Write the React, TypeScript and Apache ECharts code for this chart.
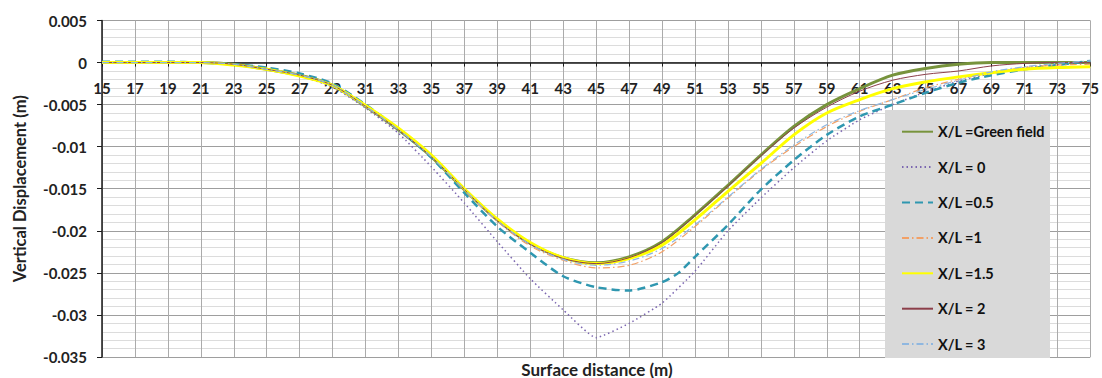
import React, { useEffect, useRef } from "react";
import * as echarts from "echarts";

// Surface distance (m) categories 15..75, labelled every 2 m
const firstDistance = 15;
const lastDistance = 75;
const categories: string[] = [];
for (let d = firstDistance; d <= lastDistance; d++) categories.push(String(d));

const yMin = -0.035;
const yMax = 0.005;
const yStep = 0.005;

// Sampling positions (m)
const distances = [15, 17, 19, 21, 23, 25, 27, 29, 31, 33, 35, 37, 39, 41, 43, 45, 47, 49, 51, 53, 55, 57, 59, 61, 63, 65, 67, 69, 71, 73, 75];
const distancesHalf = [15, 17, 19, 21, 23, 25, 27, 29, 31, 33, 35, 37, 39, 41, 43, 45, 47, 49, 50, 51, 53, 55, 57, 59, 61, 63, 65, 67, 69, 71, 73, 75];

const greenField = [0, 0, 0, 0, -0.0002, -0.0008, -0.0015, -0.0027, -0.0052, -0.008, -0.0112, -0.0151, -0.0187, -0.0215, -0.0232, -0.0238, -0.0231, -0.0213, -0.0181, -0.0146, -0.011, -0.0076, -0.005, -0.0031, -0.0015, -0.0007, -0.0002, 0, 0, 0, 0];
const xl0 = [0, 0, 0, 0, -0.0002, -0.0008, -0.0016, -0.0029, -0.0054, -0.0084, -0.0124, -0.0167, -0.0213, -0.0257, -0.0294, -0.0327, -0.031, -0.0286, -0.0248, -0.02, -0.0161, -0.0125, -0.0093, -0.0068, -0.005, -0.0035, -0.0022, -0.0013, -0.0006, -0.0002, 0];
const xl05 = [0.0001, 0.0001, 0.0001, 0, -0.0002, -0.0006, -0.0013, -0.0025, -0.005, -0.0079, -0.0113, -0.0155, -0.0195, -0.0226, -0.0254, -0.0267, -0.0271, -0.0261, -0.025, -0.0231, -0.0193, -0.0151, -0.0116, -0.0086, -0.0064, -0.005, -0.0036, -0.0024, -0.0015, -0.0008, -0.0003, 0.0002];
const xl1 = [0, 0, 0, 0, -0.0002, -0.0008, -0.0015, -0.0027, -0.0052, -0.008, -0.0112, -0.0152, -0.0189, -0.0218, -0.0235, -0.0244, -0.0241, -0.0225, -0.0195, -0.0161, -0.0128, -0.01, -0.0076, -0.0058, -0.0044, -0.003, -0.002, -0.0012, -0.0006, -0.0003, -0.0002];
const xl15 = [0, 0, 0, 0, -0.0003, -0.0008, -0.0016, -0.0027, -0.0051, -0.0078, -0.011, -0.015, -0.0186, -0.0214, -0.0232, -0.0239, -0.0233, -0.0217, -0.0187, -0.0153, -0.012, -0.0086, -0.006, -0.0044, -0.0031, -0.0023, -0.0017, -0.0012, -0.0008, -0.0006, -0.0005];
const xl2 = [0, 0, 0, 0, -0.0002, -0.0008, -0.0015, -0.0027, -0.0052, -0.008, -0.0112, -0.0151, -0.0188, -0.0216, -0.0233, -0.0239, -0.0232, -0.0214, -0.0182, -0.0147, -0.0111, -0.0078, -0.0053, -0.0034, -0.0021, -0.0014, -0.001, -0.0004, -0.0001, 0, 0];
const xl3 = [0, 0, 0, 0, -0.0002, -0.0008, -0.0015, -0.0027, -0.0052, -0.008, -0.0112, -0.0151, -0.0188, -0.0216, -0.0234, -0.0241, -0.0236, -0.0221, -0.0193, -0.016, -0.0127, -0.0098, -0.0074, -0.0057, -0.0044, -0.0032, -0.0021, -0.0011, -0.0005, -0.0001, 0.0002];

const seriesNames = ["X/L =Green field", "X/L = 0", "X/L =0.5", "X/L =1", "X/L =1.5", "X/L = 2", "X/L = 3"];

const FONT = "Lato, 'Open Sans', sans-serif";

const GRID_TOP = 20.5;
const GRID_BOTTOM = 21;
const H = 378;

function pairs(xs: number[], ys: number[]) {
  return xs.map((x, i) => [String(x), ys[i]]);
}

export default function App() {
  const ref = useRef<HTMLDivElement>(null);
  useEffect(() => {
    if (!ref.current) return;
    const chart = echarts.init(ref.current, null, { renderer: "svg" });
    const mk = (name: string, xs: number[], ys: number[], color: string, width: number, type: any, smooth: number) => ({
      name,
      type: "line",
      data: pairs(xs, ys),
      symbol: "none",
      smooth,
      lineStyle: { color, width, type },
      itemStyle: { color },
    });
    // move the category axis (line + labels) up to the zero level of the value axis
    const gridH = H - GRID_TOP - GRID_BOTTOM;
    const zeroFromBottom = gridH * ((0 - yMin) / (yMax - yMin));
    chart.setOption({
      animation: false,
      backgroundColor: "#ffffff",
      grid: { left: 102, right: 10, top: GRID_TOP, bottom: GRID_BOTTOM, containLabel: false },
      xAxis: {
        type: "category",
        data: categories,
        boundaryGap: false,
        position: "bottom",
        offset: -zeroFromBottom,
        axisLine: { onZero: false, lineStyle: { color: "#1a1a1a", width: 1.5 } },
        axisTick: { show: true, interval: 1, length: 4, lineStyle: { color: "#1a1a1a" } },
        axisLabel: {
          interval: 1,
          margin: 18,
          fontFamily: FONT,
          fontWeight: "bold",
          fontSize: 15,
          color: "#222",
        },
        splitLine: { show: true, interval: 1, lineStyle: { color: "#ababab", width: 1 } },
      },
      yAxis: {
        type: "value",
        min: yMin,
        max: yMax,
        interval: yStep,
        name: "Vertical Displacement (m)",
        nameLocation: "middle",
        nameRotate: 90,
        nameGap: 74,
        nameTextStyle: { fontFamily: FONT, fontWeight: "bold", fontSize: 16.5, color: "#222" },
        axisLine: { show: true, onZero: false, lineStyle: { color: "#1a1a1a", width: 1.5 } },
        axisTick: { show: true, length: 5, lineStyle: { color: "#1a1a1a" } },
        axisLabel: {
          margin: 15,
          fontFamily: FONT,
          fontWeight: "bold",
          fontSize: 15,
          color: "#222",
          formatter: (v: number) => String(+v.toFixed(3)),
        },
        splitLine: { show: true, lineStyle: { color: "#9e9e9e", width: 1 } },
        minorTick: { show: false, splitNumber: 5 },
        minorSplitLine: { show: true, lineStyle: { color: "#dcdcdc", width: 1 } },
      },
      legend: {
        orient: "vertical",
        left: 896,
        top: 119.2,
        itemWidth: 31,
        itemHeight: 15,
        itemGap: 20.4,
        z: 5,
        data: seriesNames,
        itemStyle: { color: "transparent", borderWidth: 0, opacity: 0 },
        textStyle: { fontFamily: FONT, fontWeight: "bold", fontSize: 14.5, color: "#111" },
      },
      graphic: [
        {
          type: "rect",
          z: 4,
          shape: { x: 885, y: 110, width: 165, height: 248 },
          style: { fill: "#d9d9d9" },
        },
        {
          type: "text",
          z: 4,
          x: 597,
          y: 369,
          style: {
            text: "Surface distance (m)",
            font: "bold 17px " + FONT,
            fill: "#222",
            textAlign: "center",
            textVerticalAlign: "middle",
          },
        },
      ],
      series: [
        mk(seriesNames[0], distances, greenField, "#77933c", 3, "solid", 0.3),
        mk(seriesNames[1], distances, xl0, "#7b66b0", 1.5, [1.5, 3], 0.15),
        mk(seriesNames[2], distancesHalf, xl05, "#2f97b0", 2.5, [8, 5], 0.25),
        mk(seriesNames[3], distances, xl1, "#f2a066", 1.2, [7, 3, 1.5, 3], 0.3),
        mk(seriesNames[4], distances, xl15, "#ffff00", 3, "solid", 0.3),
        mk(seriesNames[5], distances, xl2, "#8c3f4a", 1, "solid", 0.3),
        mk(seriesNames[6], distances, xl3, "#8fb7e0", 1.2, [7, 3, 1.5, 3], 0.3),
      ],
    });
    return () => chart.dispose();
  }, []);
  return (
    <div
      ref={ref}
      style={{ position: "fixed", left: 0, top: 0, width: 1102, height: 378, background: "#fff" }}
    />
  );
}
